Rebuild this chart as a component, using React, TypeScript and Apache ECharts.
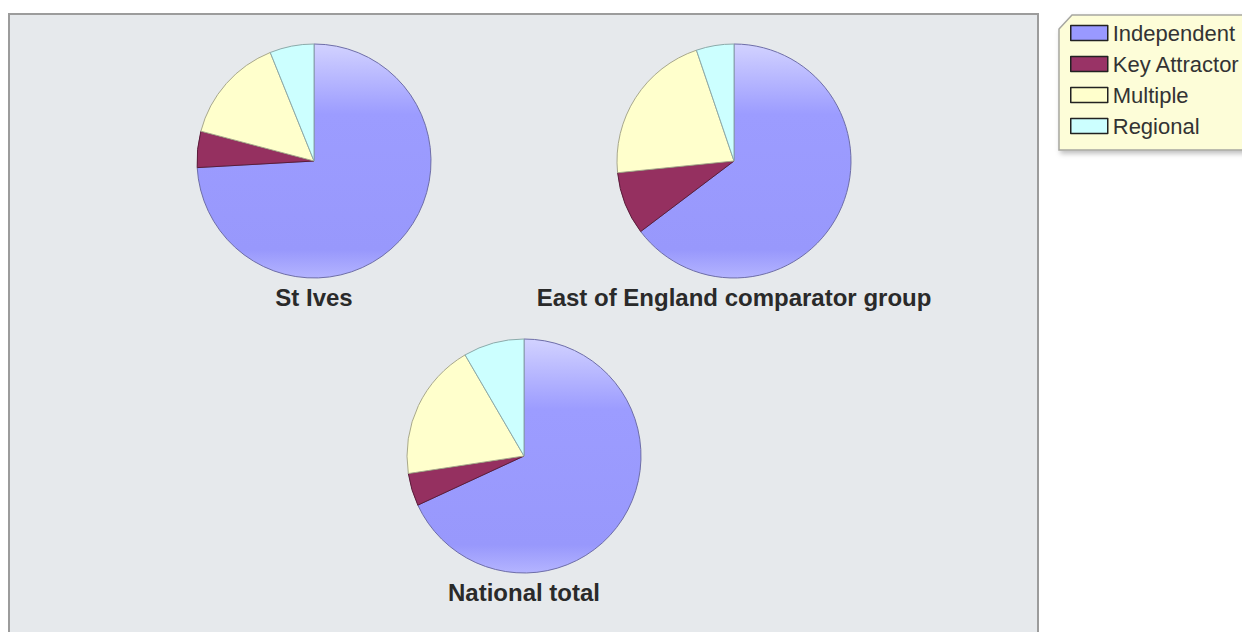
import React, { useEffect, useRef } from "react";
import * as echarts from "echarts";

const categories = ["Independent", "Key Attractor", "Multiple", "Regional"];
const groupNames = ["St Ives", "East of England comparator group", "National total"];
const stIves = [74.1, 5.0, 14.8, 6.1];
const eastOfEngland = [64.7, 8.7, 21.4, 5.2];
const nationalTotal = [68.1, 4.5, 19.0, 8.4];

const FONT = 'Arial, "Liberation Sans", sans-serif';

const sliceColors: any[] = [
  new echarts.graphic.LinearGradient(0, 0, 0, 1, [
    { offset: 0, color: "#d2d2ff" },
    { offset: 0.3, color: "#9c9cff" },
    { offset: 0.88, color: "#9898fc" },
    { offset: 1, color: "#b4b4ff" },
  ]),
  "#953060",
  "#ffffcc",
  "#ccffff",
];
const legendColors = ["#9999ff", "#993366", "#ffffcc", "#ccffff"];
const borderColors = ["#6e6ea8", "#5a1c3a", "#a8a88c", "#8caaaa"];

export default function App() {
  const ref = useRef<HTMLDivElement>(null);
  useEffect(() => {
    document.body.style.margin = "0";
    const chart = echarts.init(ref.current!, null, { renderer: "svg" });
    const groups = [stIves, eastOfEngland, nationalTotal];
    const centers = [
      [314, 161],
      [734, 161],
      [524, 456],
    ];
    const titleY = [297, 297, 592];
    const series = groups.map((vals, gi) => ({
      type: "pie",
      name: groupNames[gi],
      center: centers[gi],
      radius: 117,
      startAngle: 90,
      clockwise: true,
      label: { show: false },
      labelLine: { show: false },
      emphasis: { disabled: true },
      data: categories.map((c, i) => ({
        name: c,
        value: vals[i],
        itemStyle: { color: sliceColors[i], borderColor: borderColors[i], borderWidth: 1 },
      })),
    }));
    chart.setOption({
      animation: false,
      graphic: [
        {
          type: "rect",
          z: 0,
          shape: { x: 9, y: 14, width: 1029, height: 640 },
          style: { fill: "#e6e9ec", stroke: "#9c9c9c", lineWidth: 2 },
        },
        {
          type: "polygon",
          z: 0,
          shape: {
            points: [
              [1072, 15],
              [1250, 15],
              [1250, 150],
              [1059, 150],
              [1059, 29],
            ],
          },
          style: {
            fill: "#fdfdd8",
            stroke: "#a6a6a0",
            lineWidth: 1.5,
            shadowBlur: 5,
            shadowOffsetX: 2,
            shadowOffsetY: 3,
            shadowColor: "rgba(0,0,0,0.25)",
          },
        },
        ...groupNames.map((n, gi) => ({
          type: "text",
          z: 5,
          x: centers[gi][0],
          y: titleY[gi],
          style: {
            text: n,
            textAlign: "center",
            textVerticalAlign: "middle",
            font: `bold 24px ${FONT}`,
            fill: "#2a2a2a",
          },
        })),
      ],
      legend: {
        orient: "vertical",
        left: 1070,
        top: 22,
        padding: 0,
        itemWidth: 37,
        itemHeight: 15,
        itemGap: 9,
        icon: "rect",
        selectedMode: false,
        textStyle: { fontSize: 22, lineHeight: 22, fontFamily: FONT, color: "#333" },
        data: categories.map((c, i) => ({
          name: c,
          itemStyle: { color: legendColors[i], borderColor: "#222", borderWidth: 1.5 },
        })),
      },
      series,
    });
    return () => chart.dispose();
  }, []);
  return <div ref={ref} style={{ width: 1242, height: 632 }} />;
}
